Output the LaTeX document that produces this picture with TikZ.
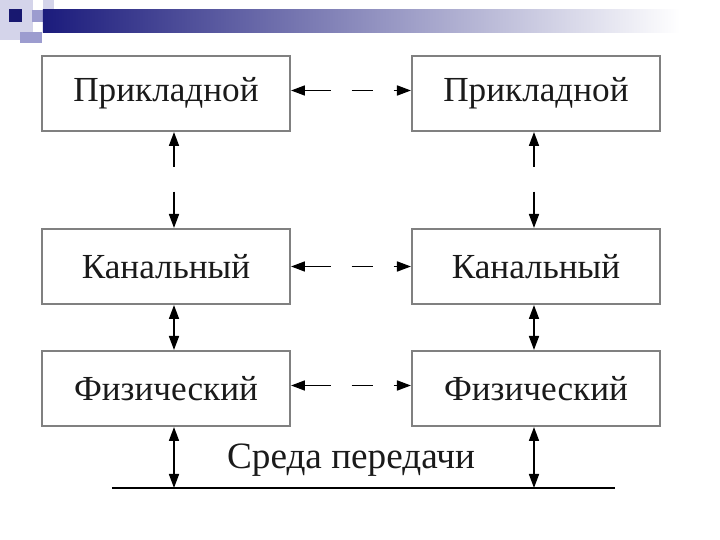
\documentclass[tikz,border=0pt]{standalone}
\usepackage{fontspec}
\setmainfont{Liberation Serif}
\usetikzlibrary{arrows.meta,positioning}
\definecolor{frame}{HTML}{808080}
\definecolor{navy}{HTML}{1B1B7C}
\definecolor{lav}{HTML}{9C9CCF}
\definecolor{lav2}{HTML}{D4D4EA}
\definecolor{ink}{HTML}{1A1A1A}
\tikzset{
  >={Triangle[length=7pt,width=5pt]},
  layer/.style={draw=frame,line width=1pt,minimum width=124pt,minimum height=37.5pt,inner sep=0pt,
    font=\fontsize{17.6}{19}\selectfont,text=ink},
  peer/.style={<->,line width=0.8pt,dash pattern=on 13pt off 10.5pt on 10.5pt off 10.5pt on 4pt},
  link/.style={<->,line width=0.8pt},
}
\begin{document}
\begin{tikzpicture}[x=0.5pt,y=-0.5pt]
\useasboundingbox (0,0) rectangle (720,540);
% slide decoration
\fill[lav2] (0,0) rectangle (33,40);
\fill[lav2] (43,0) rectangle (54,10);
\fill[lav] (32,10) rectangle (43,22);
\fill[lav] (20,32) rectangle (42,43);
\shade[left color=navy,right color=white] (43,10) rectangle (680,33);
\fill[navy!90!black] (9,9) rectangle (22,22);
% layers
\node[layer] (app1) at (166,93.5) {Прикладной};
\node[layer,right=60pt of app1] (app2) {Прикладной};
\node[layer,below=48pt of app1] (dl1) {Канальный};
\node[layer,below=48pt of app2] (dl2) {Канальный};
\node[layer,below=22.5pt of dl1] (ph1) {Физический};
\node[layer,below=22.5pt of dl2] (ph2) {Физический};
% medium
\coordinate (m1) at (112,488);
\coordinate (m2) at (615,488);
\draw[line width=1.2pt] (m1) -- (m2);
\node[font=\fontsize{18.6}{20}\selectfont,text=ink] (med) at (351,460) {Среда передачи};
% peer protocols
\draw[peer] ([yshift=1.5pt]app1.east) -- ([yshift=1.5pt]app2.west);
\draw[peer] (dl1.east) -- (dl2.west);
\draw[peer] ([yshift=1.5pt]ph1.east) -- ([yshift=1.5pt]ph2.west);
% interfaces
\draw[link,dash pattern=on 10.5pt off 12.5pt on 20pt] ([xshift=4pt]app1.south) -- ([xshift=4pt]dl1.north);
\draw[link,dash pattern=on 10.5pt off 12.5pt on 20pt] ([xshift=-1pt]app2.south) -- ([xshift=-1pt]dl2.north);
\draw[link] ([xshift=4pt]dl1.south) -- ([xshift=4pt]ph1.north);
\draw[link] ([xshift=-1pt]dl2.south) -- ([xshift=-1pt]ph2.north);
\draw[link] ([xshift=4pt]ph1.south) -- ([xshift=4pt]ph1.south |- m1);
\draw[link] ([xshift=-1pt]ph2.south) -- ([xshift=-1pt]ph2.south |- m1);
\end{tikzpicture}
\end{document}
